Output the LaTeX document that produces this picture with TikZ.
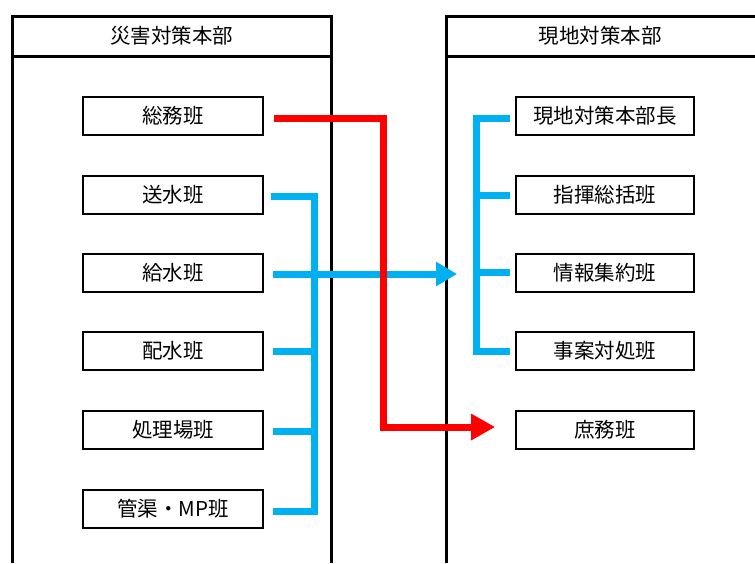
\documentclass[tikz,border=0pt]{standalone}
\usepackage{fontspec}
\setmainfont{Noto Sans CJK JP}
\usetikzlibrary{arrows.meta,calc}
\definecolor{cblue}{RGB}{0,176,240}
\definecolor{cred}{RGB}{255,0,0}
\begin{document}
\begin{tikzpicture}[x=1pt,y=-1pt,
  panel/.style={draw=black,line width=3pt},
  unit/.style={draw=black,line width=1.8pt,minimum width=180pt,minimum height=38pt,inner sep=0pt,font=\fontsize{20.5}{20.5}\selectfont},
  head/.style={font=\fontsize{20.5}{20.5}\selectfont},
  bl/.style={draw=cblue,line width=7pt},
  rd/.style={draw=cred,line width=7pt}]
\useasboundingbox (0,0) rectangle (755,563);
% panels
\draw[panel] (12,563) -- (12,16) -- (331,16) -- (331,563);
\draw[panel] (12,56) -- (331,56);
\draw[panel] (446,563) -- (446,16) -- (758,16);
\draw[panel] (446,56) -- (758,56);
\node[head] (h1) at (171.5,36) {災害対策本部};
\node[head] (h2) at (600,36) {現地対策本部};
% left units
\node[unit] (a1) at (173,116) {総務班};
\node[unit] (a2) at (173,195) {送水班};
\node[unit] (a3) at (173,273) {給水班};
\node[unit] (a4) at (173,351) {配水班};
\node[unit] (a5) at (173,430) {処理場班};
\node[unit] (a6) at (173,509) {管渠・MP班};
% right units
\node[unit,minimum width=178pt] (b1) at (605,116) {現地対策本部長};
\node[unit,minimum width=178pt] (b2) at (605,195) {指揮総括班};
\node[unit,minimum width=178pt] (b3) at (605,273) {情報集約班};
\node[unit,minimum width=178pt] (b4) at (605,351) {事案対処班};
\node[unit,minimum width=178pt] (b5) at (605,430) {庶務班};
% left bracket
\coordinate (lt) at (314,196);
\coordinate (lb) at (314,511);
\draw[bl] ($(a2.east)+(7,1)$) -- (lt) -- (lb) -- ($(a6.east)+(9,2)$);
\draw[bl] ($(a4.east)+(9,0)$) -- (314,351);
\draw[bl] ($(a5.east)+(9,1)$) -- (314,431);
% right bracket
\draw[bl] ($(b1.west)+(-5,2)$) -- (476,118) -- (476,351) -- ($(b4.west)+(-5,0)$);
\draw[bl] ($(b2.west)+(-5,0)$) -- (476,195);
\draw[bl] ($(b3.west)+(-5,-1)$) -- (476,272);
% blue arrow
\draw[bl,-{Triangle[length=21pt,width=23pt]}] ($(a3.east)+(9,1)$) -- ($(b3.west)+(-58,1)$);
% red arrow
\draw[rd,-{Triangle[length=24pt,width=25pt]}] ($(a1.east)+(10,2)$) -- (383,118) -- (383,427) -- ($(b5.west)+(-20,-3)$);
\end{tikzpicture}
\end{document}
